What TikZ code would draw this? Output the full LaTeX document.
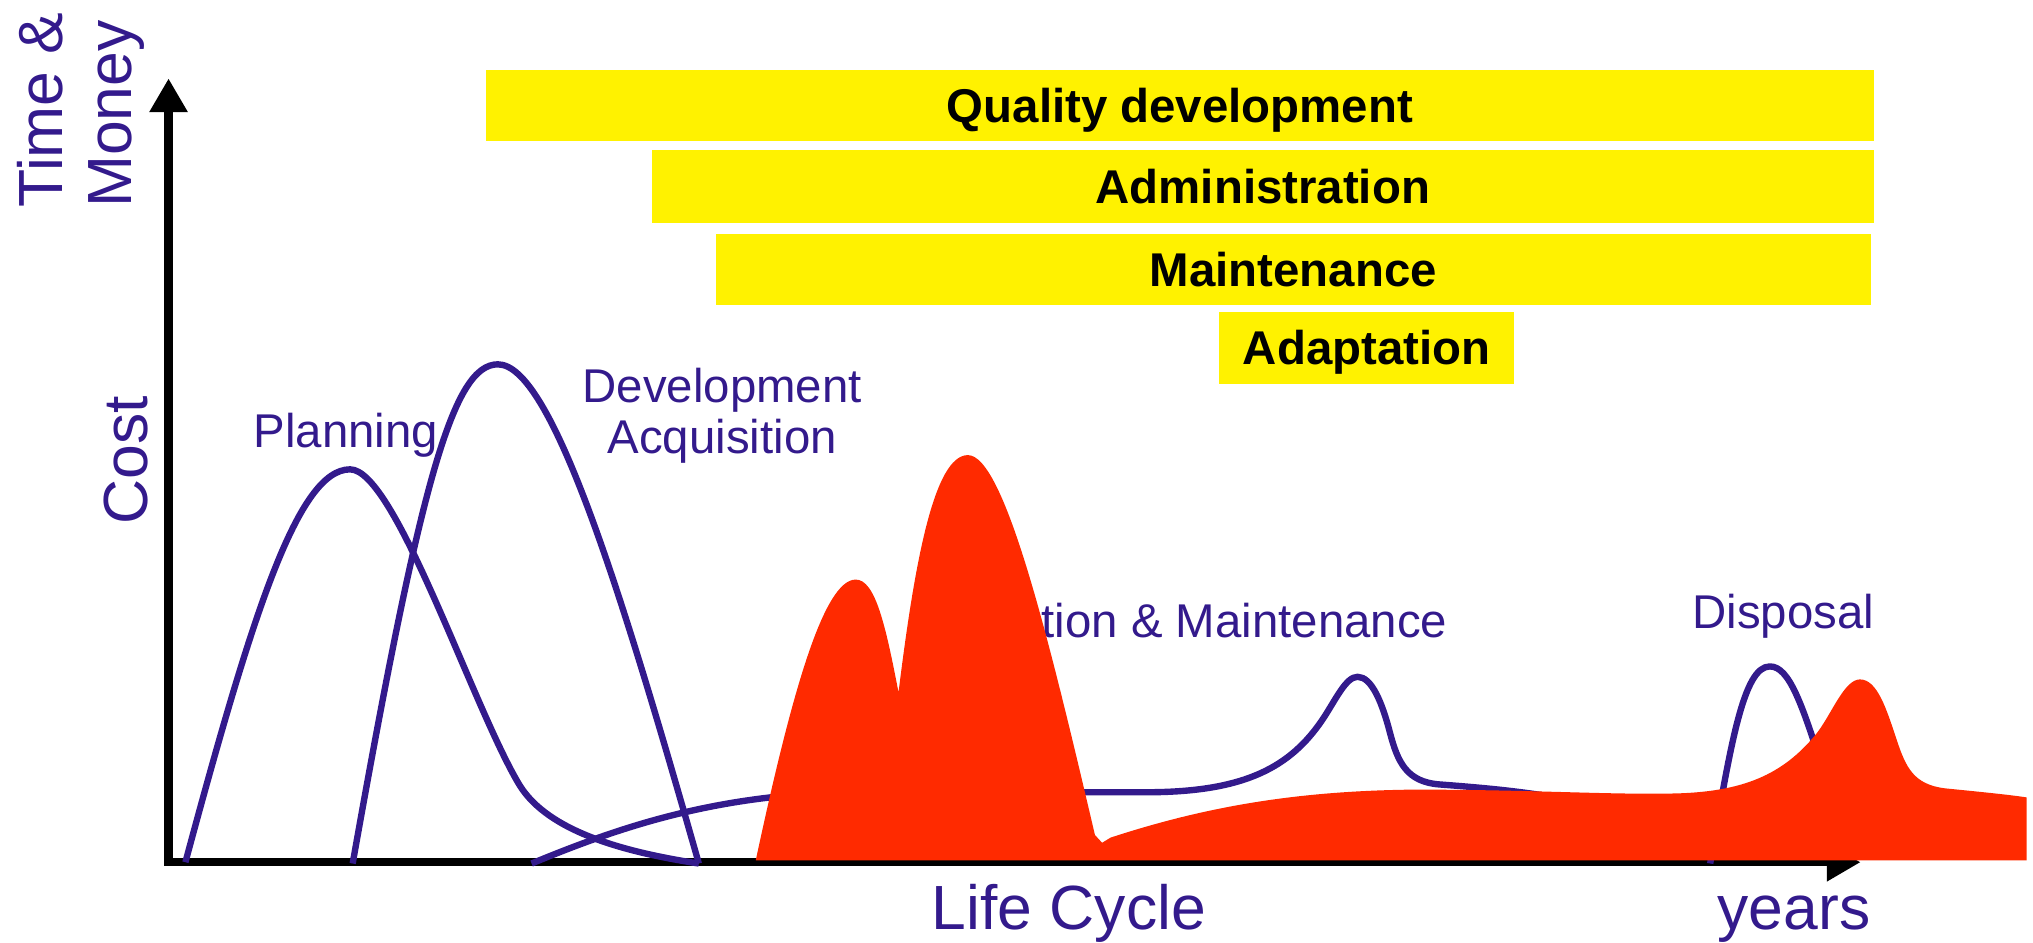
\documentclass[tikz,border=0pt]{standalone}
\usepackage{fontspec}
\setmainfont{Liberation Sans}
\usetikzlibrary{arrows.meta}
\definecolor{lcblue}{RGB}{51,26,140}
\definecolor{lcred}{RGB}{255,42,0}

\begin{document}
\begin{tikzpicture}[
		bar/.style={rectangle,fill=yellow,inner sep=0pt,minimum height=0.55cm,text height=0.72em,text depth=0em,font=\fontsize{10.4}{12}\selectfont\bfseries},
		curve/.style={draw=lcblue,line width=1.4pt,line join=round},
		lbl/.style={text=lcblue,inner sep=0pt,font=\fontsize{10.4}{11.2}\selectfont},
		biglbl/.style={text=lcblue,inner sep=0pt,font=\fontsize{13.7}{15.1}\selectfont},
		axis/.style={line width=1.8pt,line cap=rect,-{Triangle[length=2.6mm,width=2.8mm]}}]
		
		\useasboundingbox (0,0) rectangle (15.68,7.27);
		
		% Axes
		\coordinate (O) at (1.30,0.62);
		\coordinate (ytip) at (1.30,6.665);
		\coordinate (xtip) at (14.35,0.62);
		\draw[axis] (O) -- (ytip); % cost
		\draw[axis] (O) -- (xtip); % time
		
		% Axis labels
		\node[biglbl,rotate=90,align=left,anchor=north west] (tmlbl) at (0.125,5.66) {Time \&\\Money};
		\node[biglbl,rotate=90,anchor=base west] (costlbl) at (1.14,3.22) {Cost};
		\node[biglbl,anchor=base west] (lifelbl) at (7.18,0.10) {Life Cycle};
		\node[biglbl,anchor=base west] (yearslbl) at (13.24,0.10) {years};
		
		% Phase curves
		\draw[curve] (1.43,0.62) .. controls (1.95,2.55) and (2.30,3.65) .. (2.70,3.65)
			.. controls (3.05,3.65) and (3.65,1.80) .. (4.01,1.21)
			.. controls (4.23,0.86) and (4.80,0.70) .. (5.39,0.61); % planning
		\draw[curve] (2.72,0.61) .. controls (3.25,3.60) and (3.50,4.46) .. (3.84,4.46)
			.. controls (4.25,4.46) and (4.78,2.75) .. (5.39,0.61); % development
		\draw[curve] (4.10,0.61) .. controls (4.80,0.90) and (5.50,1.13) .. (6.50,1.16)
			-- (8.90,1.16)
			.. controls (9.60,1.17) and (9.95,1.35) .. (10.20,1.72)
			.. controls (10.30,1.87) and (10.38,2.05) .. (10.47,2.05)
			.. controls (10.58,2.05) and (10.66,1.85) .. (10.72,1.62)
			.. controls (10.78,1.39) and (10.85,1.24) .. (11.10,1.22)
			.. controls (11.50,1.19) and (11.80,1.16) .. (12.10,1.10); % operation
		\draw[curve] (13.19,0.61) .. controls (13.35,1.55) and (13.45,2.13) .. (13.65,2.13)
			.. controls (13.80,2.13) and (13.90,1.85) .. (14.10,1.20); % disposal
		
		% Labels for phases
		\node[lbl,anchor=base west] (planlbl) at (1.95,3.82) {Planning};
		\node[lbl,align=center,anchor=north] (devlbl) at (5.57,4.435) {Development\\Acquisition};
		\node[lbl,anchor=base east] (omlbl) at (11.17,2.35) {Operation \& Maintenance};
		\node[lbl,anchor=base west] (displbl) at (13.047,2.424) {Disposal};
		
		% Actual cost
		\fill[lcred] (5.83,0.635) -- (5.83,0.64)
			.. controls (6.10,1.90) and (6.35,2.80) .. (6.60,2.80)
			.. controls (6.75,2.80) and (6.83,2.45) .. (6.93,1.93) % first peak
			.. controls (7.05,2.90) and (7.20,3.76) .. (7.465,3.76)
			.. controls (7.75,3.76) and (8.10,2.30) .. (8.445,0.83) % second peak
			-- (8.50,0.77) -- (8.566,0.81)
			.. controls (9.30,1.05) and (10.00,1.17) .. (10.90,1.18)
			.. controls (11.80,1.18) and (12.40,1.14) .. (12.90,1.15)
			.. controls (13.45,1.16) and (13.75,1.30) .. (14.00,1.60)
			.. controls (14.12,1.744) and (14.22,2.03) .. (14.345,2.03)
			.. controls (14.48,2.03) and (14.55,1.80) .. (14.63,1.56)
			.. controls (14.70,1.35) and (14.76,1.22) .. (15.00,1.19)
			.. controls (15.30,1.16) and (15.50,1.14) .. (15.63,1.12)
			-- (15.63,0.635) -- cycle;
		
		% Activities
		\node[bar,minimum width=10.70cm] (quality) at (9.10,6.455) {Quality development};
		\node[bar,minimum width=9.42cm,minimum height=0.56cm] (admin) at (9.74,5.83) {Administration};
		\node[bar,minimum width=8.91cm,minimum height=0.55cm] (maint) at (9.975,5.19) {Maintenance};
		\node[bar,minimum width=2.28cm] (adapt) at (10.54,4.585) {Adaptation};
		
	\end{tikzpicture}
\end{document}
